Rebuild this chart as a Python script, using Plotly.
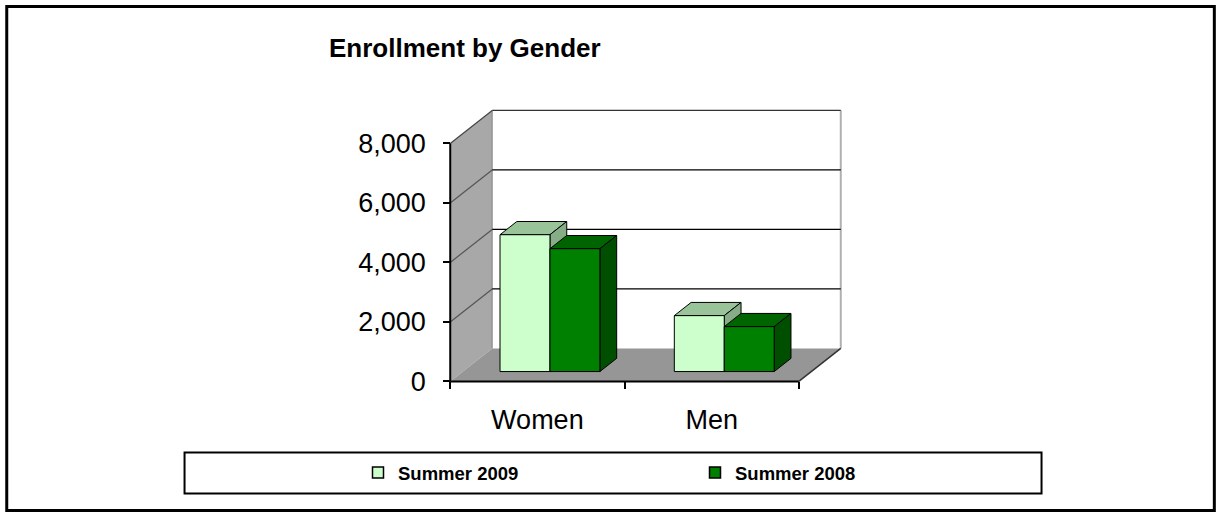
import plotly.graph_objects as go

categories = ["Women", "Men"]
summer_2009 = [4600, 1880]
summer_2008 = [4130, 1510]
series_names = ["Summer 2009", "Summer 2008"]
y_ticks = [0, 2000, 4000, 6000, 8000]

W, H = 1220, 513
FONT = "Liberation Sans, Arial, sans-serif"

# pixel mapping of the front plane of the fake 3d box
X0_PX, SX = 450, 174.5          # px of first category edge, px per category
Y0_PX, SY = 381, 238 / 8000     # px of value 0, px per value unit
DX, DY = 42 / SX, 33 / SY       # depth of the box in data units
BAR_W = 0.2865
F0, F1 = 0.3, 0.7               # bar front / back as fraction of the depth
YMAX = y_ticks[-1]
N = len(categories)

XR = [-0.03, N + DX + 0.03]
YR = [-220, YMAX + DY + 150]

ml = X0_PX + XR[0] * SX
mr = W - (X0_PX + XR[1] * SX)
mb = H - (Y0_PX - YR[0] * SY)
mt = Y0_PX - YR[1] * SY
pw, ph = W - ml - mr, H - mt - mb


def px_x(p):
    return (p - ml) / pw


def px_y(p):
    return (H - mb - p) / ph


front = ["#ccffcc", "#008000"]
top = ["#99c499", "#006400"]
side = ["#86ad86", "#004f00"]

fig = go.Figure()


def poly(xs, ys, fill, line="black", lw=1):
    fig.add_trace(go.Scatter(x=xs + xs[:1], y=ys + ys[:1], mode="lines", fill="toself",
                             fillcolor=fill, line=dict(color=line, width=lw),
                             showlegend=False, hoverinfo="skip"))


def seg(xs, ys, color, lw=1):
    fig.add_trace(go.Scatter(x=xs, y=ys, mode="lines", line=dict(color=color, width=lw),
                             showlegend=False, hoverinfo="skip"))


# walls and floor
poly([0, 0, DX, DX], [0, YMAX, YMAX + DY, DY], "#a8a8a8", "rgba(0,0,0,0)", 0)
poly([DX, DX, N + DX, N + DX], [DY, YMAX + DY, YMAX + DY, DY], "white", "rgba(0,0,0,0)", 0)
poly([0, N, N + DX, DX], [0, 0, DY, DY], "#969696", "rgba(0,0,0,0)", 0)
seg([DX, DX], [DY, YMAX + DY], "#808080")
seg([N + DX, N + DX], [DY, YMAX + DY], "#b0b0b0", 2)
for t in y_ticks[1:]:
    seg([DX, N + DX], [t + DY, t + DY], "#333333" if t == YMAX else "black", 1.3)
    seg([0, DX], [t, t + DY], "#444444" if t == YMAX else "#555555", 1.2)
seg([N, N + DX], [0, DY], "#333333", 1.5)

# bars, painted left to right
for i in range(N):
    for k, vals in enumerate([summer_2009, summer_2008]):
        v = vals[i]
        xl = i + (1 - 2 * BAR_W) / 2 + k * BAR_W
        xr = xl + BAR_W
        a, b = F0, F1
        poly([xl + a * DX, xr + a * DX, xr + b * DX, xl + b * DX],
             [v + a * DY, v + a * DY, v + b * DY, v + b * DY], top[k])
        poly([xr + a * DX, xr + b * DX, xr + b * DX, xr + a * DX],
             [a * DY, b * DY, v + b * DY, v + a * DY], side[k])
        poly([xl + a * DX, xr + a * DX, xr + a * DX, xl + a * DX],
             [a * DY, a * DY, v + a * DY, v + a * DY], front[k])

# front axis lines
seg([0, 0], [0, YMAX], "black", 2)
seg([0, N], [0, 0], "black", 2)

# legend entries, one legend per series so they sit apart like the original
legend_x = [358, 695]
for k, name in enumerate(series_names):
    fig.add_trace(go.Scatter(x=[None], y=[None], mode="markers", name=name,
                             legend="legend" if k == 0 else "legend%d" % (k + 1),
                             marker=dict(symbol="square", size=11, color=front[k],
                                         line=dict(color="black", width=1.5))))

legend_style = dict(orientation="h", xref="container", yref="container",
                    xanchor="left", y=1 - 473 / H, yanchor="middle",
                    font=dict(size=18.5, family=FONT, weight="bold"),
                    bgcolor="rgba(0,0,0,0)")

fig.update_layout(
    width=W, height=H,
    margin=dict(l=ml, r=mr, t=mt, b=mb),
    paper_bgcolor="white", plot_bgcolor="white",
    font=dict(family=FONT, color="black"),
    title=dict(text="<b>Enrollment by Gender</b>", font=dict(size=26, family=FONT),
               xref="container", yref="container", x=329 / W, xanchor="left",
               y=1 - 48 / H, yanchor="middle"),
    showlegend=True,
    legend=dict(x=legend_x[0] / W, **legend_style),
    legend2=dict(x=legend_x[1] / W, **legend_style),
    shapes=[
        dict(type="rect", xref="paper", yref="paper", x0=px_x(6), x1=px_x(1215),
             y0=px_y(6), y1=px_y(510), line=dict(color="black", width=3), layer="below"),
        dict(type="rect", xref="paper", yref="paper", x0=px_x(184), x1=px_x(1042),
             y0=px_y(452), y1=px_y(493), line=dict(color="black", width=2), layer="below"),
    ],
)

fig.update_xaxes(range=XR, showgrid=False, zeroline=False, showline=False,
                 tickvals=[i + 0.5 for i in range(N)], ticktext=categories, ticks="",
                 tickfont=dict(size=27), anchor="free",
                 position=(0 - YR[0]) / (YR[1] - YR[0]), ticklabelstandoff=20,
                 automargin=False,
                 minor=dict(tickvals=list(range(N + 1)), ticks="outside", ticklen=7,
                            tickwidth=2, tickcolor="black", showgrid=False))
fig.update_yaxes(range=YR, showgrid=False, zeroline=False, showline=False,
                 tickvals=y_ticks, tickformat=",", ticks="outside", ticklen=7,
                 tickwidth=2, tickcolor="black", tickfont=dict(size=27),
                 anchor="free", position=(0 - XR[0]) / (XR[1] - XR[0]),
                 ticklabelstandoff=12, automargin=False)

fig.write_html("out.html", config={"displayModeBar": False},
               post_script="document.body.style.margin='0';"
                           "document.body.style.overflow='hidden';")
